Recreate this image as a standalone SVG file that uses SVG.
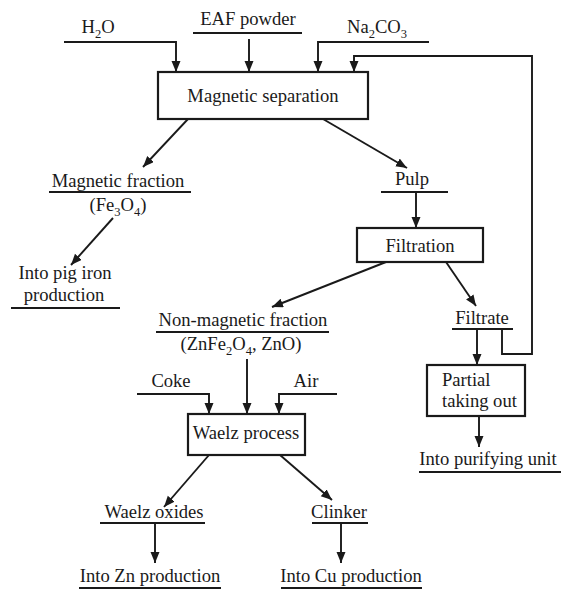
<svg xmlns="http://www.w3.org/2000/svg" width="565" height="589" viewBox="0 0 565 589">
<style>
text{font-family:'Liberation Serif',serif;font-size:18.6px;fill:#1a1a1a}
.m{text-anchor:middle}
.box{fill:#fff;stroke:#1a1a1a;stroke-width:2.2}
.ul{stroke:#1a1a1a;stroke-width:1.8;fill:none}
.ca{stroke:#1a1a1a;stroke-width:1.9;fill:none;marker-end:url(#ah)}
.sub{font-size:12.5px}
</style>
<defs>
<marker id="ah" markerUnits="userSpaceOnUse" markerWidth="12" markerHeight="10" refX="11" refY="4.5" orient="auto">
<path d="M0,0 L11,4.5 L0,9 z" fill="#1a1a1a"/>
</marker>
</defs>
<rect width="565" height="589" fill="#fff"/>
<g id="connectors">
<polyline class="ca" points="64,42 176,42 176,72"/>
<line class="ca" x1="249" y1="39" x2="249" y2="72"/>
<polyline class="ca" points="429,42 318,42 318,72"/>
<polyline class="ca" points="502,329 502,354 532,354 532,56 354,56 354,72"/>
<line class="ca" x1="188" y1="119" x2="143" y2="167"/>
<line class="ca" x1="323" y1="119" x2="407" y2="168"/>
<line class="ca" x1="416" y1="192" x2="416" y2="228"/>
<line class="ca" x1="113" y1="218" x2="71" y2="265"/>
<line class="ca" x1="386" y1="262" x2="272" y2="307"/>
<line class="ca" x1="446" y1="262" x2="476" y2="306"/>
<line class="ca" x1="477" y1="329" x2="477" y2="365"/>
<line class="ca" x1="479" y1="416" x2="479" y2="447"/>
<line class="ca" x1="247" y1="359" x2="247" y2="414"/>
<polyline class="ca" points="137,394 209,394 209,414"/>
<polyline class="ca" points="337,394 279,394 279,414"/>
<line class="ca" x1="209" y1="455" x2="164" y2="507"/>
<line class="ca" x1="280" y1="455" x2="332" y2="500"/>
<line class="ca" x1="155" y1="523" x2="155" y2="563"/>
<line class="ca" x1="341" y1="523" x2="341" y2="563"/>
</g>
<g font-family="Liberation Serif, serif">
<g id="h2o"><text class="m" x="98" y="33">H<tspan class="sub" dy="5">2</tspan><tspan dy="-5">O</tspan></text></g>
<g id="eaf"><text class="m" x="248" y="25">EAF powder</text><line class="ul" x1="193" y1="33" x2="302" y2="33"/></g>
<g id="na2co3"><text class="m" x="377" y="33">Na<tspan class="sub" dy="5">2</tspan><tspan dy="-5">CO</tspan><tspan class="sub" dy="5">3</tspan></text></g>
<g id="magsep"><rect class="box" x="158" y="72" width="210" height="47"/><text class="m" x="263" y="102">Magnetic separation</text></g>
<g id="magfrac"><text class="m" x="118" y="187">Magnetic fraction</text><line class="ul" x1="49" y1="192" x2="191" y2="192"/><text class="m" x="118" y="211">(Fe<tspan class="sub" dy="5">3</tspan><tspan dy="-5">O</tspan><tspan class="sub" dy="5">4</tspan><tspan dy="-5">)</tspan></text></g>
<g id="pigiron"><text class="m" x="65" y="279">Into pig iron</text><text class="m" x="64" y="301">production</text><line class="ul" x1="11" y1="308" x2="120" y2="308"/></g>
<g id="pulp"><text class="m" x="412" y="185">Pulp</text><line class="ul" x1="381" y1="192" x2="448" y2="192"/></g>
<g id="filtration"><rect class="box" x="357" y="228" width="126" height="34"/><text class="m" x="420" y="252">Filtration</text></g>
<g id="nonmag"><text class="m" x="243" y="326">Non-magnetic fraction</text><line class="ul" x1="156" y1="332" x2="329" y2="332"/><text class="m" x="241" y="350">(ZnFe<tspan class="sub" dy="5">2</tspan><tspan dy="-5">O</tspan><tspan class="sub" dy="5">4</tspan><tspan dy="-5">, ZnO)</tspan></text></g>
<g id="filtrate"><text class="m" x="482" y="324">Filtrate</text><line class="ul" x1="452" y1="329" x2="513" y2="329"/></g>
<g id="partial"><rect class="box" x="427" y="365" width="98" height="51"/><text x="442" y="386">Partial</text><text x="442" y="407">taking out</text></g>
<g id="purify"><text class="m" x="488" y="465">Into purifying unit</text><line class="ul" x1="419" y1="472" x2="561" y2="472"/></g>
<g id="coke"><text class="m" x="171" y="387">Coke</text></g>
<g id="air"><text class="m" x="306" y="387">Air</text></g>
<g id="waelz"><rect class="box" x="188" y="414" width="117" height="41"/><text class="m" x="246" y="439">Waelz process</text></g>
<g id="oxides"><text class="m" x="154" y="518">Waelz oxides</text><line class="ul" x1="100" y1="523" x2="205" y2="523"/></g>
<g id="clinker"><text class="m" x="339" y="518">Clinker</text><line class="ul" x1="312" y1="523" x2="368" y2="523"/></g>
<g id="zn"><text class="m" x="150" y="582">Into Zn production</text><line class="ul" x1="79" y1="588" x2="221" y2="588"/></g>
<g id="cu"><text class="m" x="351" y="582">Into Cu production</text><line class="ul" x1="281" y1="588" x2="422" y2="588"/></g>
</g>
</svg>
